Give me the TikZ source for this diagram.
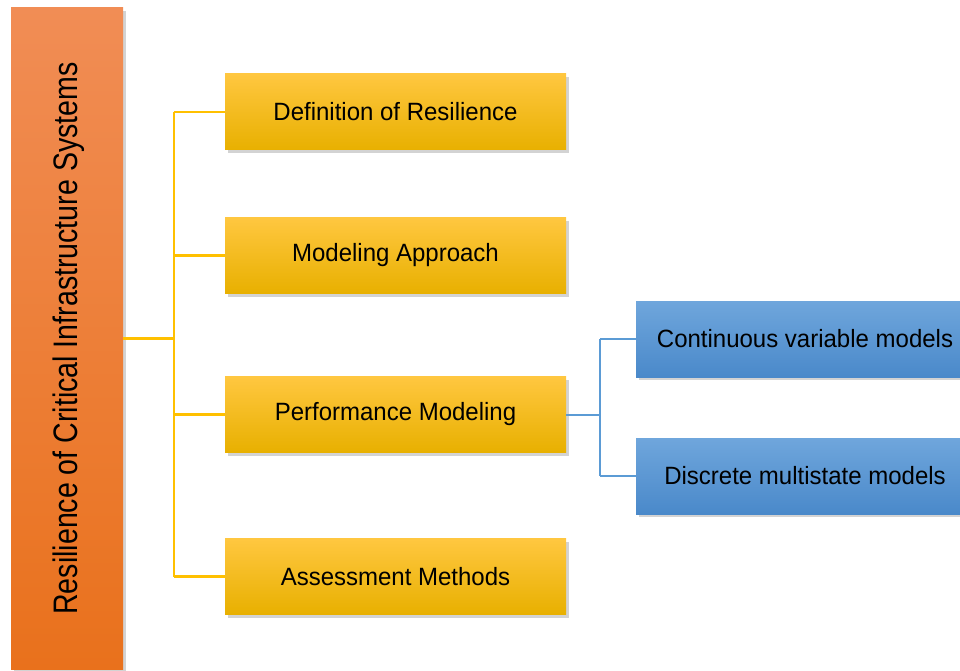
\documentclass[tikz,border=0pt]{standalone}
\usepackage{fontspec}
\setmainfont{Liberation Sans}[FakeStretch=0.96]
\newfontfamily\rootfont{Liberation Sans}[FakeStretch=0.84]
\usetikzlibrary{shadows}

\definecolor{orangelight}{HTML}{F18D55}
\definecolor{orangedark}{HTML}{E9711C}
\definecolor{yellowtop}{HTML}{FFC740}
\definecolor{yellowmid}{HTML}{FFC000}
\definecolor{yellowbot}{HTML}{E8B000}
\definecolor{bluetop}{HTML}{6FA6DC}
\definecolor{bluebot}{HTML}{4A89CA}
\definecolor{yline}{HTML}{FFC000}
\definecolor{bline}{HTML}{5B9BD5}

\tikzset{
  boxshadow/.style={drop shadow={opacity=0.35,shadow xshift=3pt,shadow yshift=-3pt}},
  rootbox/.style={rectangle,minimum width=112pt,minimum height=661pt,inner sep=0pt,
    top color=orangelight,bottom color=orangedark,boxshadow},
  topicbox/.style={rectangle,minimum width=341pt,minimum height=76pt,inner sep=0pt,
    top color=yellowtop,middle color=yellowmid,bottom color=yellowbot,boxshadow,
    font=\fontsize{25}{29}\selectfont},
  modelbox/.style={rectangle,minimum width=341pt,minimum height=76pt,inner sep=0pt,
    top color=bluetop,bottom color=bluebot,boxshadow,
    font=\fontsize{25}{29}\selectfont},
  yconn/.style={draw=yline,line width=2.2pt},
  bconn/.style={draw=bline,line width=2pt}
}

\begin{document}
\begin{tikzpicture}[x=1pt,y=-1pt]
  \useasboundingbox (0,0) rectangle (960,671);

  % root
  \node[rootbox] (root) at (67,338.5) {};
  \node[rotate=90,font=\rootfont\fontsize{34}{38}\selectfont] (rootlabel) at (69,338.5) {Resilience of Critical Infrastructure Systems};

  % topics
  \node[topicbox] (def) at (395.5,112) {Definition of Resilience};
  \node[topicbox] (appr) at (395.5,255.5) {Modeling Approach};
  \node[topicbox] (perf) at (395.5,414.5) {Performance Modeling};
  \node[topicbox] (assess) at (395.5,576.5) {Assessment Methods};

  % models
  \node[modelbox] (cont) at (806.5,339) {\hspace*{-3pt}Continuous variable models};
  \node[modelbox] (disc) at (806.5,476) {\hspace*{-3pt}Discrete multistate models};

  % yellow tree
  \draw[yconn] (root.east) -- ++(51,0) coordinate (ytrunk);
  \draw[yconn] (ytrunk |- def) -- (ytrunk |- assess);
  \foreach \t in {def,appr,perf,assess}
    \draw[yconn] (ytrunk |- \t) -- (\t.west);

  % blue tree
  \draw[bconn] (perf.east) -- ++(34,0) coordinate (btrunk);
  \draw[bconn] (btrunk |- cont) -- (btrunk |- disc);
  \foreach \t in {cont,disc}
    \draw[bconn] (btrunk |- \t) -- (\t.west);
\end{tikzpicture}
\end{document}
